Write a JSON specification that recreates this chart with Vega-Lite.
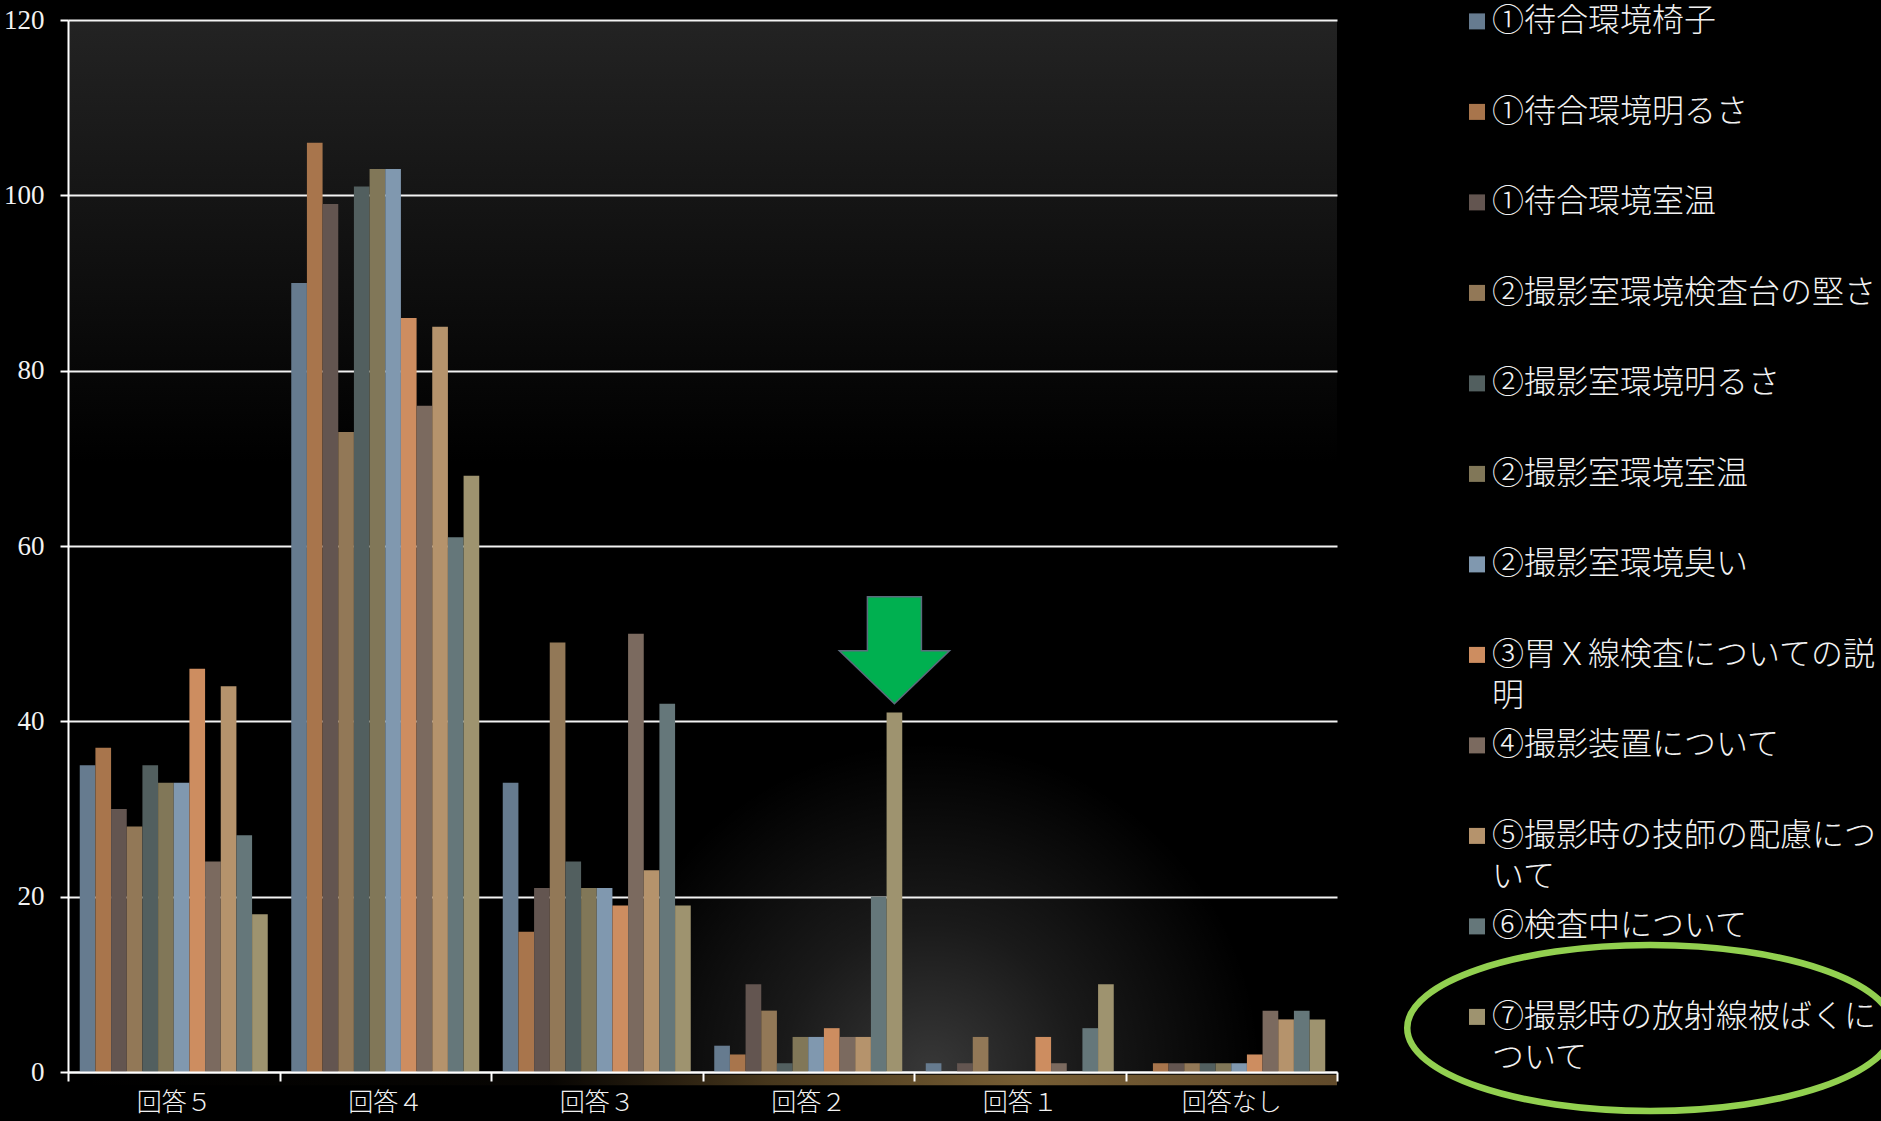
{
  "$schema": "https://vega.github.io/schema/vega-lite/v6.json",
  "width": 1269,
  "height": 1052,
  "autosize": {"type": "none"},
  "padding": {"left": 68, "top": 20, "right": 544, "bottom": 49},
  "background": "#000000",
  "config": {
    "view": {
      "stroke": null,
      "fill": {
        "gradient": "linear", "x1": 0, "y1": 0, "x2": 0, "y2": 1,
        "stops": [
          {"offset": 0, "color": "#232323"},
          {"offset": 0.42, "color": "#000000"},
          {"offset": 1, "color": "#000000"}
        ]
      }
    },
    "style": {"guide-label": {"lineHeight": 41}}
  },
  "datasets": {
    "one": [{}],
    "bars": [
      {"cat": "回答５", "series": "①待合環境椅子", "value": 35},
      {"cat": "回答５", "series": "①待合環境明るさ", "value": 37},
      {"cat": "回答５", "series": "①待合環境室温", "value": 30},
      {"cat": "回答５", "series": "②撮影室環境検査台の堅さ", "value": 28},
      {"cat": "回答５", "series": "②撮影室環境明るさ", "value": 35},
      {"cat": "回答５", "series": "②撮影室環境室温", "value": 33},
      {"cat": "回答５", "series": "②撮影室環境臭い", "value": 33},
      {"cat": "回答５", "series": "③胃Ｘ線検査についての説明", "value": 46},
      {"cat": "回答５", "series": "④撮影装置について", "value": 24},
      {"cat": "回答５", "series": "⑤撮影時の技師の配慮について", "value": 44},
      {"cat": "回答５", "series": "⑥検査中について", "value": 27},
      {"cat": "回答５", "series": "⑦撮影時の放射線被ばくについて", "value": 18},
      {"cat": "回答４", "series": "①待合環境椅子", "value": 90},
      {"cat": "回答４", "series": "①待合環境明るさ", "value": 106},
      {"cat": "回答４", "series": "①待合環境室温", "value": 99},
      {"cat": "回答４", "series": "②撮影室環境検査台の堅さ", "value": 73},
      {"cat": "回答４", "series": "②撮影室環境明るさ", "value": 101},
      {"cat": "回答４", "series": "②撮影室環境室温", "value": 103},
      {"cat": "回答４", "series": "②撮影室環境臭い", "value": 103},
      {"cat": "回答４", "series": "③胃Ｘ線検査についての説明", "value": 86},
      {"cat": "回答４", "series": "④撮影装置について", "value": 76},
      {"cat": "回答４", "series": "⑤撮影時の技師の配慮について", "value": 85},
      {"cat": "回答４", "series": "⑥検査中について", "value": 61},
      {"cat": "回答４", "series": "⑦撮影時の放射線被ばくについて", "value": 68},
      {"cat": "回答３", "series": "①待合環境椅子", "value": 33},
      {"cat": "回答３", "series": "①待合環境明るさ", "value": 16},
      {"cat": "回答３", "series": "①待合環境室温", "value": 21},
      {"cat": "回答３", "series": "②撮影室環境検査台の堅さ", "value": 49},
      {"cat": "回答３", "series": "②撮影室環境明るさ", "value": 24},
      {"cat": "回答３", "series": "②撮影室環境室温", "value": 21},
      {"cat": "回答３", "series": "②撮影室環境臭い", "value": 21},
      {"cat": "回答３", "series": "③胃Ｘ線検査についての説明", "value": 19},
      {"cat": "回答３", "series": "④撮影装置について", "value": 50},
      {"cat": "回答３", "series": "⑤撮影時の技師の配慮について", "value": 23},
      {"cat": "回答３", "series": "⑥検査中について", "value": 42},
      {"cat": "回答３", "series": "⑦撮影時の放射線被ばくについて", "value": 19},
      {"cat": "回答２", "series": "①待合環境椅子", "value": 3},
      {"cat": "回答２", "series": "①待合環境明るさ", "value": 2},
      {"cat": "回答２", "series": "①待合環境室温", "value": 10},
      {"cat": "回答２", "series": "②撮影室環境検査台の堅さ", "value": 7},
      {"cat": "回答２", "series": "②撮影室環境明るさ", "value": 1},
      {"cat": "回答２", "series": "②撮影室環境室温", "value": 4},
      {"cat": "回答２", "series": "②撮影室環境臭い", "value": 4},
      {"cat": "回答２", "series": "③胃Ｘ線検査についての説明", "value": 5},
      {"cat": "回答２", "series": "④撮影装置について", "value": 4},
      {"cat": "回答２", "series": "⑤撮影時の技師の配慮について", "value": 4},
      {"cat": "回答２", "series": "⑥検査中について", "value": 20},
      {"cat": "回答２", "series": "⑦撮影時の放射線被ばくについて", "value": 41},
      {"cat": "回答１", "series": "①待合環境椅子", "value": 1},
      {"cat": "回答１", "series": "①待合環境明るさ", "value": 0},
      {"cat": "回答１", "series": "①待合環境室温", "value": 1},
      {"cat": "回答１", "series": "②撮影室環境検査台の堅さ", "value": 4},
      {"cat": "回答１", "series": "②撮影室環境明るさ", "value": 0},
      {"cat": "回答１", "series": "②撮影室環境室温", "value": 0},
      {"cat": "回答１", "series": "②撮影室環境臭い", "value": 0},
      {"cat": "回答１", "series": "③胃Ｘ線検査についての説明", "value": 4},
      {"cat": "回答１", "series": "④撮影装置について", "value": 1},
      {"cat": "回答１", "series": "⑤撮影時の技師の配慮について", "value": 0},
      {"cat": "回答１", "series": "⑥検査中について", "value": 5},
      {"cat": "回答１", "series": "⑦撮影時の放射線被ばくについて", "value": 10},
      {"cat": "回答なし", "series": "①待合環境椅子", "value": 0},
      {"cat": "回答なし", "series": "①待合環境明るさ", "value": 1},
      {"cat": "回答なし", "series": "①待合環境室温", "value": 1},
      {"cat": "回答なし", "series": "②撮影室環境検査台の堅さ", "value": 1},
      {"cat": "回答なし", "series": "②撮影室環境明るさ", "value": 1},
      {"cat": "回答なし", "series": "②撮影室環境室温", "value": 1},
      {"cat": "回答なし", "series": "②撮影室環境臭い", "value": 1},
      {"cat": "回答なし", "series": "③胃Ｘ線検査についての説明", "value": 2},
      {"cat": "回答なし", "series": "④撮影装置について", "value": 7},
      {"cat": "回答なし", "series": "⑤撮影時の技師の配慮について", "value": 6},
      {"cat": "回答なし", "series": "⑥検査中について", "value": 7},
      {"cat": "回答なし", "series": "⑦撮影時の放射線被ばくについて", "value": 6}
    ]
  },
  "layer": [
    {
      "data": {"name": "one"},
      "mark": {
        "type": "rect",
        "fill": {
          "gradient": "radial", "x1": 0.68, "y1": 0.7072, "r1": 0, "x2": 0.68, "y2": 0.7072, "r2": 0.26,
          "stops": [
            {"offset": 0, "color": "rgba(255,255,255,0.22)"},
            {"offset": 0.45, "color": "rgba(255,255,255,0.1)"},
            {"offset": 1, "color": "rgba(255,255,255,0)"}
          ]
        }
      },
      "encoding": {"y": {"datum": 0, "type": "quantitative"}, "y2": {"datum": 60}}
    },
    {
      "data": {"name": "one"},
      "mark": {
        "type": "rect",
        "fill": {
          "gradient": "linear", "x1": 0, "y1": 0, "x2": 1, "y2": 0,
          "stops": [
            {"offset": 0, "color": "rgba(190,140,70,0)"},
            {"offset": 0.38, "color": "rgba(190,140,70,0.04)"},
            {"offset": 0.55, "color": "rgba(200,155,80,0.35)"},
            {"offset": 0.75, "color": "rgba(215,170,95,0.55)"},
            {"offset": 1, "color": "rgba(215,165,95,0.45)"}
          ]
        }
      },
      "encoding": {"y": {"datum": -1.5, "type": "quantitative"}, "y2": {"datum": -0.3}}
    },
    {
      "data": {"name": "bars"},
      "mark": {"type": "bar"},
      "encoding": {
        "x": {
          "field": "cat", "type": "nominal",
          "sort": ["回答５", "回答４", "回答３", "回答２", "回答１", "回答なし"],
          "scale": {"paddingInner": 0, "paddingOuter": 0},
          "axis": {
            "title": null, "labelAngle": 0, "grid": false, "zindex": 1,
            "labelFont": "Noto Sans CJK JP", "labelFontSize": 25, "labelFontWeight": 300, "labelColor": "#f2f2f2",
            "labelPadding": 9, "tickBand": "extent", "tickSize": 9, "tickWidth": 2,
            "tickColor": "#ffffff", "domainColor": "#ffffff", "domainWidth": 2
          }
        },
        "xOffset": {
          "field": "series", "type": "nominal",
          "scale": {
            "domain": ["①待合環境椅子", "①待合環境明るさ", "①待合環境室温", "②撮影室環境検査台の堅さ", "②撮影室環境明るさ", "②撮影室環境室温", "②撮影室環境臭い", "③胃Ｘ線検査についての説明", "④撮影装置について", "⑤撮影時の技師の配慮について", "⑥検査中について", "⑦撮影時の放射線被ばくについて"],
            "paddingInner": 0, "paddingOuter": 0.75
          }
        },
        "y": {
          "field": "value", "type": "quantitative",
          "scale": {"domain": [0, 120], "nice": false, "zero": true},
          "axis": {
            "title": null, "values": [0, 20, 40, 60, 80, 100, 120],
            "labelFont": "Liberation Sans Narrow", "labelFontSize": 27, "labelColor": "#f2f2f2",
            "labelPadding": 16, "tickSize": 8, "tickWidth": 2, "tickColor": "#ffffff",
            "domainColor": "#ffffff", "domainWidth": 2,
            "grid": true, "gridColor": "#ffffff", "gridWidth": 2, "gridOpacity": 0.95
          }
        },
        "color": {
          "field": "series", "type": "nominal",
          "scale": {
            "domain": ["①待合環境椅子", "①待合環境明るさ", "①待合環境室温", "②撮影室環境検査台の堅さ", "②撮影室環境明るさ", "②撮影室環境室温", "②撮影室環境臭い", "③胃Ｘ線検査についての説明", "④撮影装置について", "⑤撮影時の技師の配慮について", "⑥検査中について", "⑦撮影時の放射線被ばくについて"],
            "range": ["#667B8F", "#A8754C", "#635550", "#927857", "#525F5F", "#817758", "#8098AF", "#CD8D60", "#7B6A5F", "#B5936C", "#65777A", "#9E936F"]
          },
          "legend": {
            "title": null, "orient": "none", "legendX": 1393, "legendY": -14.6,
            "direction": "vertical", "padding": 0, "gridAlign": "all",
            "symbolType": "square", "symbolSize": 256, "symbolStrokeWidth": 0,
            "labelFont": "Noto Sans CJK JP", "labelFontSize": 32, "labelFontWeight": 300, "labelColor": "#f2f2f2",
            "labelLimit": 800, "labelOffset": -1, "rowPadding": 17.5,
            "labelExpr": "datum.label == '③胃Ｘ線検査についての説明' ? ['③胃Ｘ線検査についての説', '明'] : datum.label == '⑤撮影時の技師の配慮について' ? ['⑤撮影時の技師の配慮につ', 'いて'] : datum.label == '⑦撮影時の放射線被ばくについて' ? ['⑦撮影時の放射線被ばくに', 'ついて'] : datum.label"
          }
        }
      }
    },
    {
      "data": {"name": "one"},
      "mark": {
        "type": "point",
        "shape": "M -0.5 -0.99 L 0.5 -0.99 L 0.5 0.01 L 1.02 0.01 L 0 0.99 L -1.02 0.01 L -0.5 0.01 Z",
        "filled": true, "fill": "#00B050", "stroke": "#5B6B7C", "strokeWidth": 1.5,
        "size": 11664, "opacity": 1
      },
      "encoding": {
        "x": {"datum": "回答２", "type": "nominal"},
        "xOffset": {"datum": "⑦撮影時の放射線被ばくについて", "type": "nominal"},
        "y": {"datum": 48.1, "type": "quantitative"}
      }
    },
    {
      "data": {"name": "one"},
      "mark": {
        "type": "point",
        "shape": "M 6.62 -0.44 C 6.62 0.018 5.532 0.39 4.19 0.39 C 2.848 0.39 1.76 0.018 1.76 -0.44 C 1.76 -0.898 2.848 -1.27 4.19 -1.27 C 5.532 -1.27 6.62 -0.898 6.62 -0.44 Z",
        "filled": false, "stroke": "#92D050", "strokeWidth": 6.5, "size": 40000, "opacity": 1
      },
      "encoding": {
        "x": {"datum": "回答なし", "type": "nominal"},
        "y": {"datum": 0, "type": "quantitative"}
      }
    }
  ]
}
